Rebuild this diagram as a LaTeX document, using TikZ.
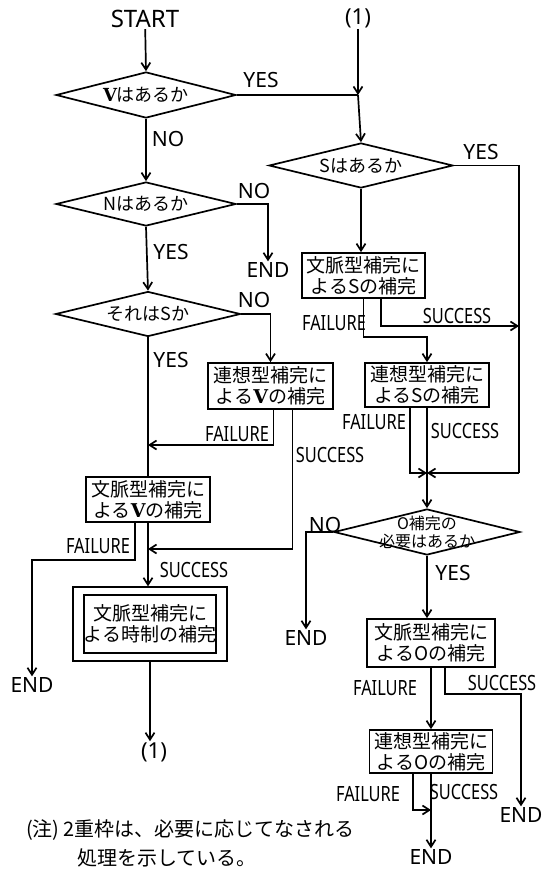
\documentclass[tikz,border=0pt]{standalone}
\usepackage{fontspec}
\setmainfont{Noto Sans CJK JP}
\newfontfamily\labfont{Noto Sans}
\newfontfamily\labnarrow{Noto Sans}[FakeStretch=0.78]
\newfontfamily\vfont{DejaVu Serif}
\usetikzlibrary{arrows.meta,shapes.geometric,fit}
\newcommand{\Vb}{{\vfont\bfseries V}}
\begin{document}
\begin{tikzpicture}[x=1pt,y=-1pt,
  ln/.style={line width=1.7pt},
  arr/.style={ln,-{Straight Barb[length=7pt,width=9pt]}},
  box/.style={draw,ln,inner sep=0pt,align=center,font=\fontsize{19}{21}\selectfont},
  dia/.style={diamond,draw,ln,inner sep=0pt},
  dtxt/.style={inner sep=0pt,align=center,font=\fontsize{18}{20}\selectfont},
  yn/.style={inner sep=1pt,font=\labfont\fontsize{21}{21}\selectfont},
  fs/.style={inner sep=1pt,font=\labnarrow\fontsize{21}{21}\selectfont},
  note/.style={inner sep=0pt,anchor=west,font=\fontsize{20}{22}\selectfont}
]
\fill[white] (0,0) rectangle (551,879);
\useasboundingbox (0,0) rectangle (551,879);

% ---- left column ----
\node[yn,font=\labfont\fontsize{24}{24}\selectfont] (start) at (145,19) {START};
\node[dia,minimum width=180,minimum height=46] (D1) at (146,95) {};
\node[dtxt] (D1t) at (D1) {\Vb はあるか};
\node[dia,minimum width=180,minimum height=44] (DN) at (146,204) {};
\node[dtxt] (DNt) at (DN) {Nはあるか};
\node[dia,minimum width=185,minimum height=45] (D4) at (148,314) {};
\node[dtxt] (D4t) at (D4) {それはSか};
\node[box,minimum width=125,minimum height=46] (B5) at (270.5,386) {連想型補完に\\よる\Vb の補完};
\node[box,minimum width=124,minimum height=45] (B6) at (148,499.5) {文脈型補完に\\よる\Vb の補完};
\node[box,minimum width=123,minimum height=58] (B7) at (150,624) {文脈型補完に\\よる時制の補完};
\node[draw,ln,fit=(B7),inner xsep=10pt,inner ysep=7pt] (B7o) {};
\node[yn,font=\labfont\fontsize{22}{22}\selectfont] (one2) at (154,752) {(1)};
\node[yn] (endL) at (32,685) {END};
\node[yn] (end1) at (268,270) {END};

% ---- right column ----
\node[yn,font=\labfont\fontsize{22}{22}\selectfont] (one1) at (358,18) {(1)};
\coordinate (J0) at (358,95);
\node[dia,minimum width=184,minimum height=45] (D2) at (361,165.5) {};
\node[dtxt] (D2t) at (D2) {Sはあるか};
\node[box,minimum width=123,minimum height=45] (B1) at (363.5,275.5) {文脈型補完に\\よるSの補完};
\node[box,minimum width=124,minimum height=44] (B2) at (427,385) {連想型補完に\\よるSの補完};
\coordinate (R1) at (519,326);
\coordinate (R2) at (519,473);
\coordinate (J1) at (427,473);
\node[dia,minimum width=186,minimum height=46] (D3) at (427,532) {};
\node[dtxt,font=\fontsize{16}{18}\selectfont] (D3t) at (D3) {O補完の\\必要はあるか};
\node[box,minimum width=128,minimum height=48] (B3) at (431,643) {文脈型補完に\\よるOの補完};
\node[box,minimum width=123,minimum height=43] (B4) at (431,751.5) {連想型補完に\\よるOの補完};
\coordinate (J2) at (431,810);
\coordinate (J3) at (148,445);
\coordinate (J4) at (148,549);
\node[yn] (end3) at (306,638) {END};
\node[yn] (end5) at (521,815) {END};
\node[yn] (end6) at (431,857) {END};

% ---- labels ----
\node[yn] (l1) at (261,80) {YES};
\node[yn] (l2) at (168,139) {NO};
\node[yn] (l3) at (481,152) {YES};
\node[yn] (l4) at (254,191) {NO};
\node[yn] (l5) at (171,252) {YES};
\node[yn] (l6) at (254,300) {NO};
\node[yn] (l7) at (171,360) {YES};
\node[fs] (l8) at (334,323) {FAILURE};
\node[fs] (l9) at (457,316) {SUCCESS};
\node[fs] (l10) at (237,434) {FAILURE};
\node[fs] (l11) at (330,455) {SUCCESS};
\node[fs] (l12) at (374,422) {FAILURE};
\node[fs] (l13) at (465,431) {SUCCESS};
\node[fs] (l14) at (98,546) {FAILURE};
\node[fs] (l15) at (194,570) {SUCCESS};
\node[yn] (l16) at (325,525) {NO};
\node[yn] (l17) at (453,573) {YES};
\node[fs] (l18) at (385,688) {FAILURE};
\node[fs] (l19) at (502,683) {SUCCESS};
\node[fs] (l20) at (368,794) {FAILURE};
\node[fs] (l21) at (464,792) {SUCCESS};

\node[note] (n1) at (26,830) {(注)\,2重枠は、必要に応じてなされる};
\node[note] (n2) at (77,858) {処理を示している。};

% ---- connectors ----
\draw[arr] (start) -- (D1.north);
\draw[ln] (D1.east) -- (J0);
\draw[arr] (one1) -- (J0);
\draw[arr] (J0) -- (D2.north);
\draw[arr] (D1.south) -- (DN.north);
\draw[arr] (DN.east) -| (end1.north);
\draw[arr] (DN.south) -- (D4.north);
\draw[arr] (D4.east) -| (B5.north);
\draw[ln] (D4.south) -- (D4.south |- B6.north);
\draw[arr] ([xshift=3pt]B5.south) |- (J3);
\draw[arr] ([xshift=22pt]B5.south) |- (J4);
\draw[arr] ([xshift=-13pt]B6.south) -- ++(0,37) -| (endL.north);
\draw[arr] (B6.south) -- (B6.south |- B7o.north);
\draw[arr] (B7o.south) -- (B7o.south |- one2.north);

\draw[arr] (D2.south) -- (D2.south |- B1.north);
\draw[arr] (B1.south) -- ++(0,38) -| (B2.north);
\draw[arr] ([xshift=17.5pt]B1.south) |- (R1);
\draw[ln] (D2.east) -| (R2);
\draw[arr] (R2) -- (J1);
\draw[arr] ([xshift=-17pt]B2.south) |- (J1);
\draw[ln] (B2.south) -- (J1);
\draw[arr] (J1) -- (D3.north);
\draw[arr] (D3.west) -| (end3.north);
\draw[arr] (D3.south) -- (D3.south |- B3.north);
\draw[arr] (B3.south) -- (B4.north);
\draw[arr] ([xshift=14pt]B3.south) -- ++(0,26) -| (end5.north);
\draw[arr] ([xshift=-18pt]B4.south) |- (J2);
\draw[arr] (B4.south) -- (end6.north);
\end{tikzpicture}
\end{document}
